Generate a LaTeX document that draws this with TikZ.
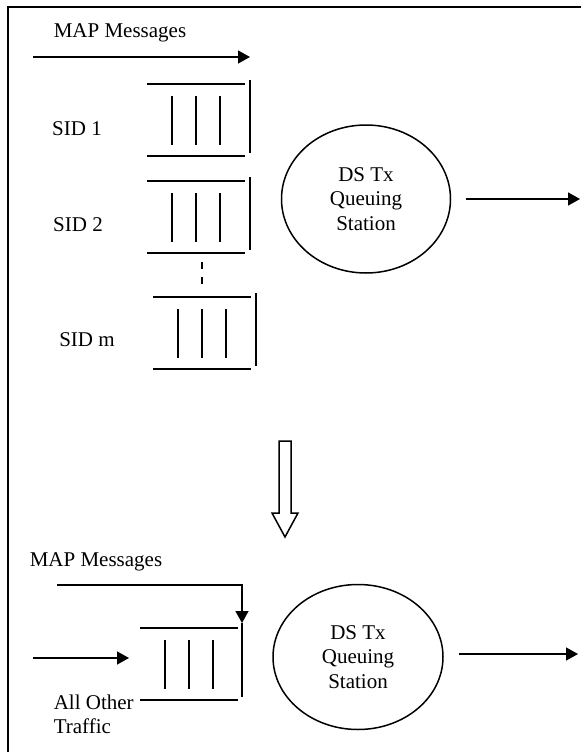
\documentclass[tikz,border=0pt]{standalone}
\usepackage{fontspec}
\setmainfont{Liberation Serif}
\usetikzlibrary{shapes.geometric, arrows.meta}
\tikzset{
    station/.style={ellipse, draw, align=center, inner sep=0pt},
    txt/.style={inner sep=0pt},
    arr/.style={-{Triangle[length=12pt, width=13pt]}},
    buffer/.pic={
        \draw (0,0) -- (98,0) (0,72) -- (98,72);
        \foreach \i in {25,49,73} \draw (\i,12) -- (\i,61);
    },
    sidqueue/.pic={
        \pic {buffer};
        \draw (103,-4) -- (103,69);
    }
}
\begin{document}
\begin{tikzpicture}[x=1pt, y=-1pt, line width=1.5pt, font=\fontsize{21}{24.5}\selectfont]
            \useasboundingbox (0,0) rectangle (581,752);
            \draw [line width=2pt] (8,752) -- (8,7) -- (581,7);
            \node [txt] (map1) at (120,33) {MAP Messages};
            \coordinate (in1) at (33,57);
            \coordinate (end1) at (250,57);
            \path (in1) edge [draw, arr] (end1);
            \node [txt] (sid1) at (77,129) {SID 1};
            \node [txt] (sid2) at (78,225) {SID 2};
            \node [txt] (sidm) at (87,340) {SID m};
            \pic at (147,84) {sidqueue};
            \pic at (147,181) {sidqueue};
            \pic at (153,297) {sidqueue};
            \coordinate (dot1) at (202,262);
            \coordinate (dot2) at (202,284);
            \path (dot1) edge [draw, dash pattern=on 7pt off 8pt] (dot2);
            \node [station, minimum width=169pt, minimum height=148pt] (ds1) at (366,199) {DS Tx\\Queuing\\Station};
            \coordinate (out1) at (580,199);
            \path (ds1) edge [draw, arr, shorten <=15pt] (out1);
            \draw (279,441) -- (291,441) -- (291,513) -- (298,513) -- (285,537) -- (272,513) -- (279,513) -- cycle;
            \node [txt] (map2) at (96,562) {MAP Messages};
            \coordinate (in2) at (57,585);
            \coordinate (drop) at (242,623);
            \coordinate (foot) at (242,697);
            \draw [arr] (in2) -| (drop);
            \path (drop) edge [draw] (foot);
            \pic at (140,628) {buffer};
            \coordinate (in3) at (33,658);
            \coordinate (end3) at (129,658);
            \path (in3) edge [draw, arr] (end3);
            \node [txt, anchor=north west, align=left] (other) at (53,694) {All Other\\Traffic};
            \node [station, minimum width=170pt, minimum height=145pt] (ds2) at (358,657) {DS Tx\\Queuing\\Station};
            \coordinate (out2) at (578,654);
            \path (ds2.east |- out2) edge [draw, arr, shorten <=15pt] (out2);
        \end{tikzpicture}
\end{document}
